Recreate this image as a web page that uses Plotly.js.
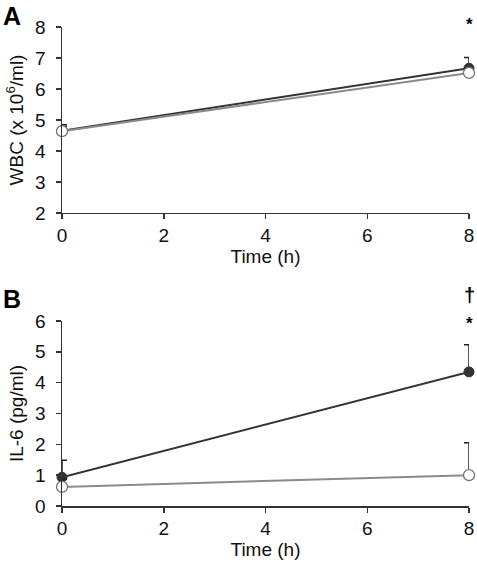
<!DOCTYPE html>
<html>
<head>
<meta charset="utf-8">
<script src="https://cdn.plot.ly/plotly-3.0.1.min.js"></script>
<style>html,body{margin:0;padding:0;background:#fff}#chart{width:477px;height:562px}</style>
</head>
<body>
<div id="chart"></div>
<script>
// Time points (h)
const timeH = [0, 8];
const xTicks = [0, 2, 4, 6, 8];

// Panel A: WBC (x 10^6/ml)
const wbcFilled = [4.65, 6.67];
const wbcFilledErr = [0.2, 0.35];
const wbcOpen = [4.64, 6.52];
const wbcOpenErr = [0.15, 0.15];

// Panel B: IL-6 (pg/ml)
const il6Filled = [0.93, 4.35];
const il6FilledErr = [0.55, 0.88];
const il6Open = [0.62, 1.0];
const il6OpenErr = [0.25, 1.05];

const dark = '#333333';
const grey = '#8a8a8a';
const font = 'Liberation Sans, Arial, sans-serif';
const fs = 19;

function filled(x, y, err, xa, ya) {
  return {x: x, y: y, xaxis: xa, yaxis: ya, type: 'scatter', mode: 'lines+markers',
    cliponaxis: false,
    line: {color: dark, width: 2},
    marker: {symbol: 'circle', size: 10, color: dark, line: {color: dark, width: 1}},
    error_y: {type: 'data', array: err, arrayminus: [0, 0], symmetric: false, color: '#222', thickness: 1.5, width: 5},
    showlegend: false, hoverinfo: 'skip'};
}
function open(x, y, err, xa, ya) {
  return {x: x, y: y, xaxis: xa, yaxis: ya, type: 'scatter', mode: 'lines+markers',
    cliponaxis: false,
    line: {color: grey, width: 2},
    marker: {symbol: 'circle', size: 11, color: '#ffffff', line: {color: '#777', width: 1.3}},
    error_y: {type: 'data', array: err, arrayminus: [0, 0], symmetric: false, color: '#222', thickness: 1.5, width: 5},
    showlegend: false, hoverinfo: 'skip'};
}

const data = [
  filled(timeH, wbcFilled, wbcFilledErr, 'x', 'y'),
  open(timeH, wbcOpen, wbcOpenErr, 'x', 'y'),
  filled(timeH, il6Filled, il6FilledErr, 'x2', 'y2'),
  open(timeH, il6Open, il6OpenErr, 'x2', 'y2')
];

const axisCommon = {
  showline: true, linecolor: dark, linewidth: 1.5, mirror: false,
  ticks: 'outside', ticklen: 5, tickwidth: 1.5, tickcolor: dark,
  showgrid: false, zeroline: false, fixedrange: true,
  tickfont: {family: font, size: fs, color: '#111'}
};

const layout = {
  width: 477, height: 562,
  margin: {l: 62, r: 8, t: 27, b: 56},
  paper_bgcolor: '#fff', plot_bgcolor: '#fff',
  font: {family: font, color: '#111'},
  xaxis: Object.assign({}, axisCommon, {domain: [0, 1], anchor: 'y', range: [0, 8], tickvals: xTicks,
    title: {text: 'Time (h)', font: {family: font, size: fs, color: '#111'}, standoff: 2}}),
  yaxis: Object.assign({}, axisCommon, {domain: [0.6117, 1], anchor: 'x', range: [2, 8], dtick: 1, ticklabelstandoff: 6,
    title: {text: 'WBC (x 10<sup>6</sup>/ml)', font: {family: font, size: fs, color: '#111'}, standoff: 6}}),
  xaxis2: Object.assign({}, axisCommon, {domain: [0, 1], anchor: 'y2', range: [0, 8], tickvals: xTicks,
    title: {text: 'Time (h)', font: {family: font, size: fs, color: '#111'}, standoff: 2}}),
  yaxis2: Object.assign({}, axisCommon, {domain: [0, 0.3862], anchor: 'x2', range: [0, 6], dtick: 1, ticklabelstandoff: 6,
    title: {text: 'IL-6 (pg/ml)', font: {family: font, size: fs, color: '#111'}, standoff: 6}}),
  annotations: [
    {text: '<b>A</b>', xref: 'paper', yref: 'paper', x: -0.123, y: 1.022, xanchor: 'center', yanchor: 'middle', showarrow: false,
     font: {family: font, size: 25, color: '#000'}},
    {text: '<b>B</b>', xref: 'paper', yref: 'paper', x: -0.123, y: 0.433, xanchor: 'center', yanchor: 'middle', showarrow: false,
     font: {family: font, size: 25, color: '#000'}},
    {text: '<b>*</b>', xref: 'x', yref: 'paper', x: 8, y: 1.006, xanchor: 'center', yanchor: 'middle', showarrow: false,
     font: {family: font, size: 17, color: '#000'}},
    {text: '<b>*</b>', xref: 'x2', yref: 'paper', x: 8, y: 0.382, xanchor: 'center', yanchor: 'middle', showarrow: false,
     font: {family: font, size: 17, color: '#000'}},
    {text: '<b>†</b>', xref: 'x2', yref: 'paper', x: 8, y: 0.44, xanchor: 'center', yanchor: 'middle', showarrow: false,
     font: {family: font, size: 20, color: '#000'}}
  ]
};

Plotly.newPlot('chart', data, layout, {staticPlot: true, displayModeBar: false});
</script>
</body>
</html>
